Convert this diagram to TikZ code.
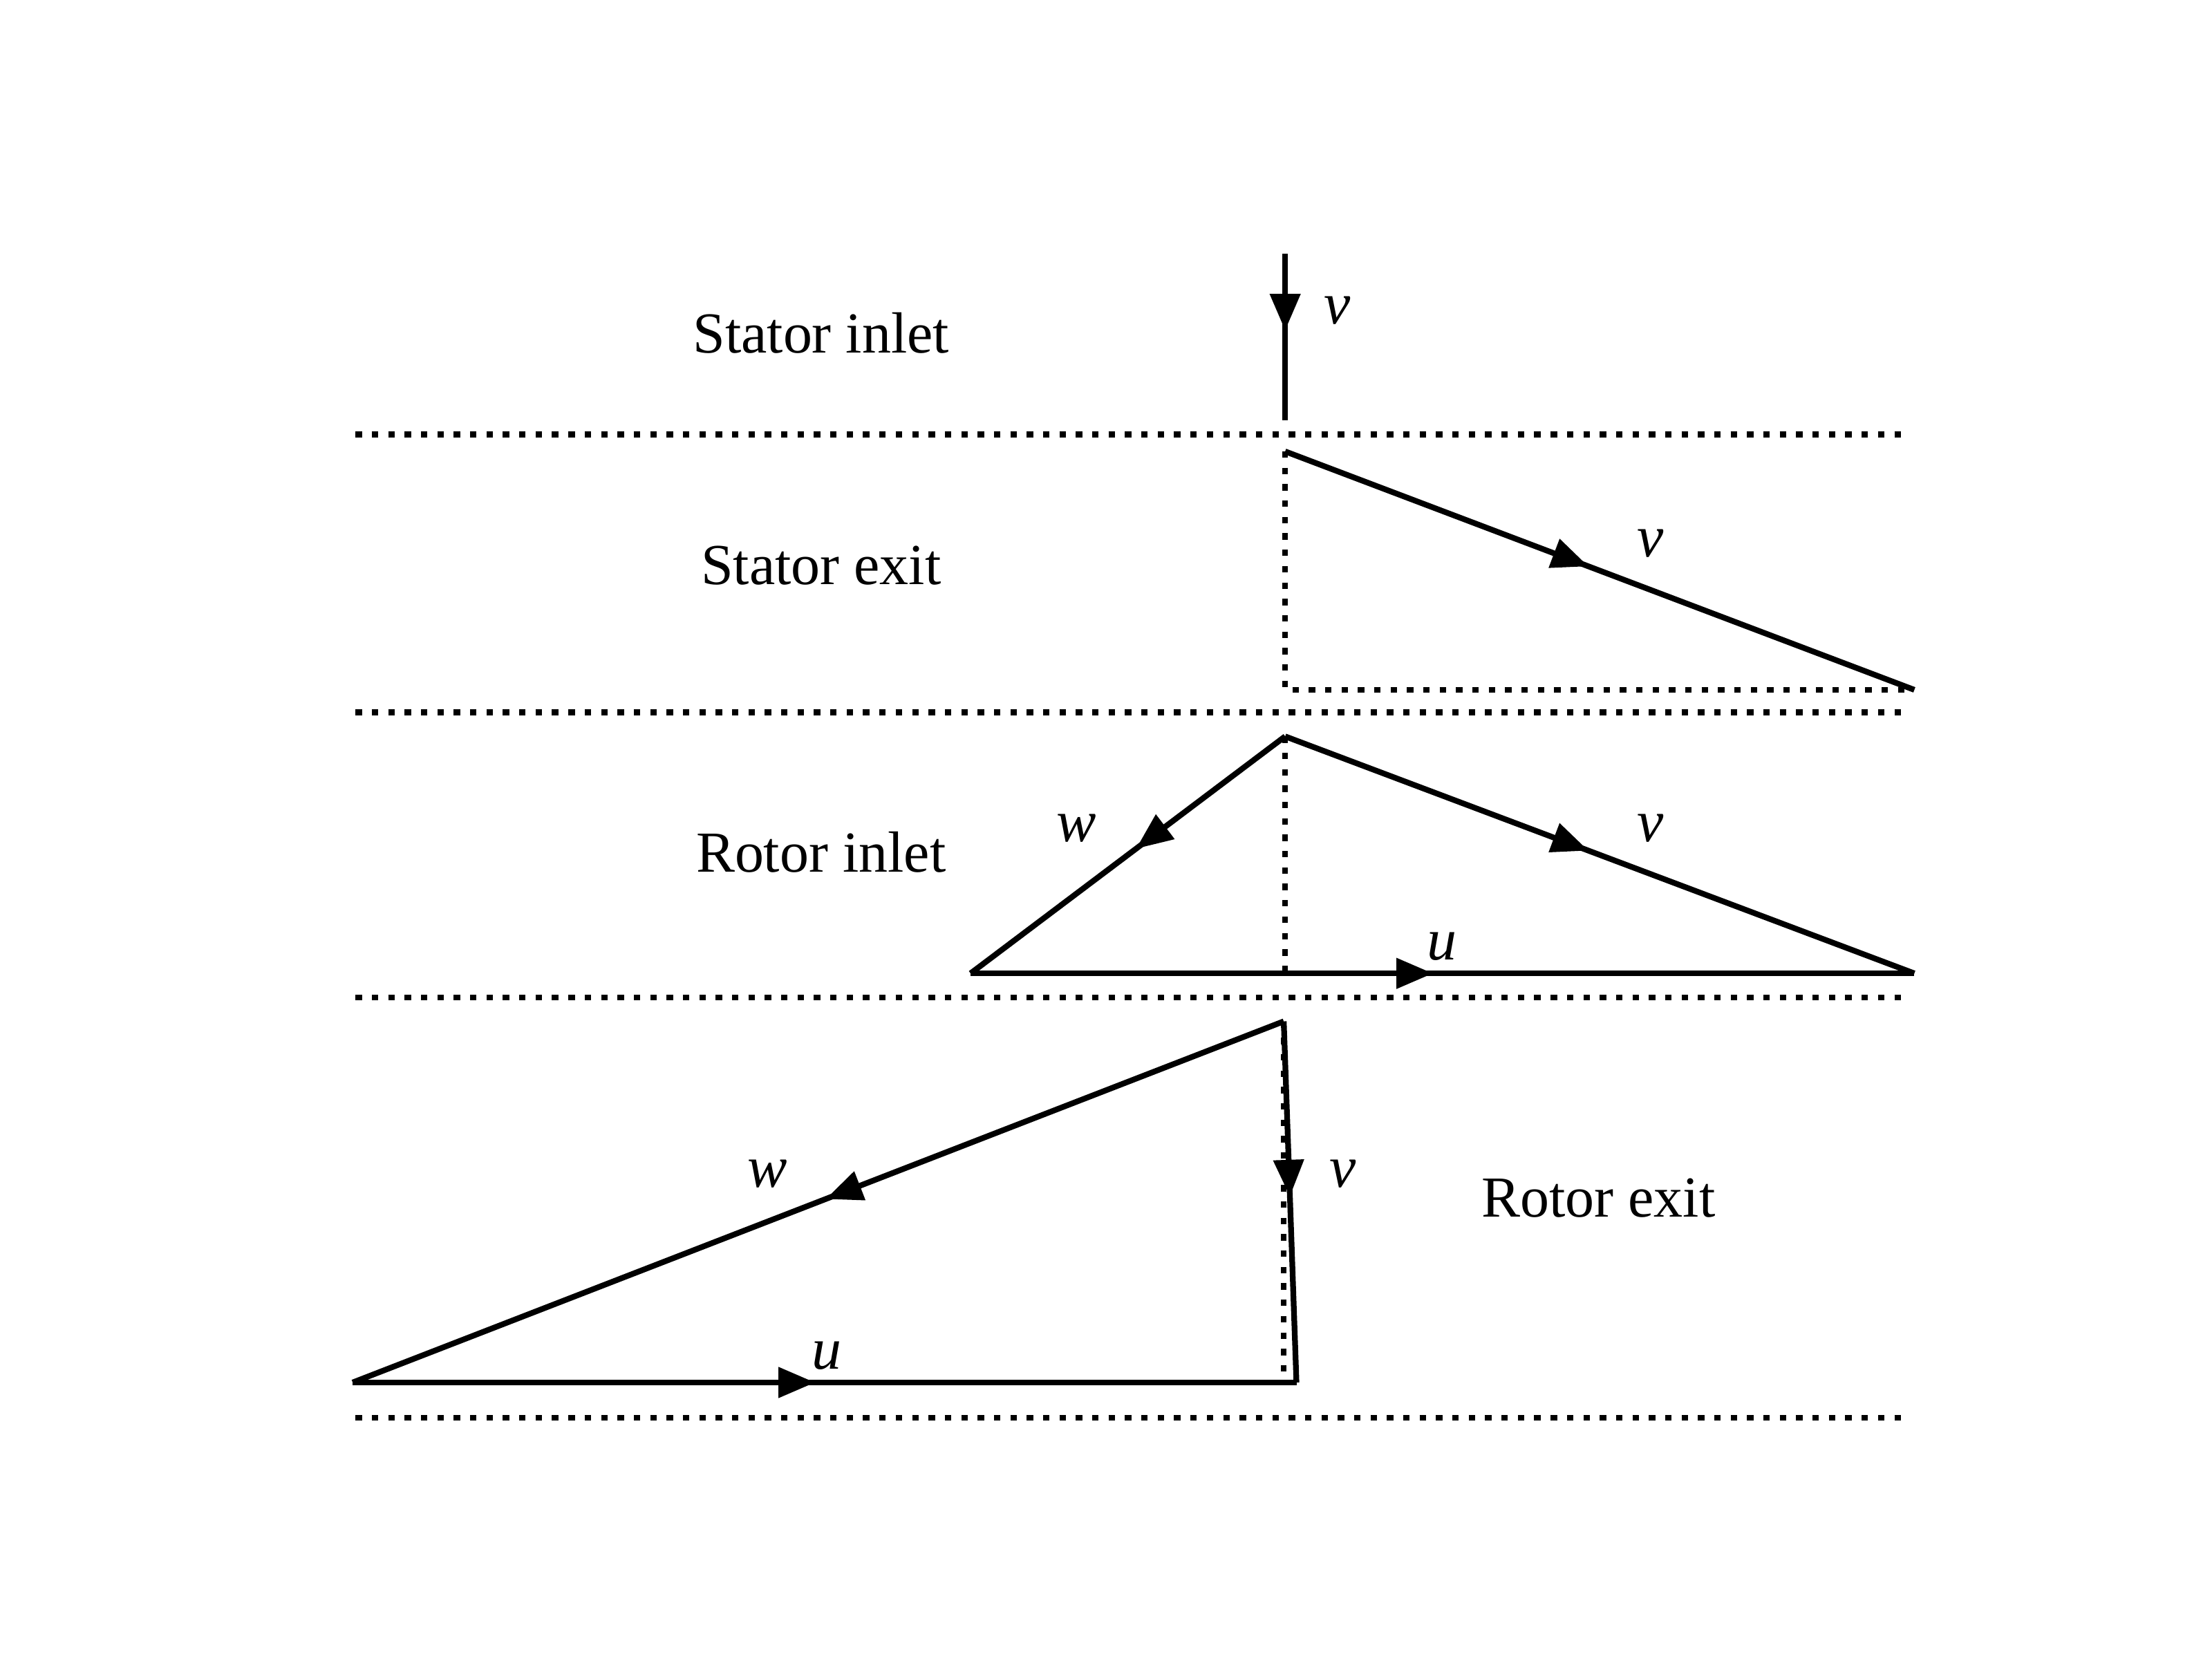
\documentclass[tikz,border=0pt]{standalone}
\usepackage{fontspec}
\setmainfont{Liberation Serif}
\usetikzlibrary{arrows.meta,decorations.markings}
\tikzset{
  vec/.style={line width=1.15pt},
  dotline/.style={line width=1.15pt, dash pattern=on 1.3pt off 2.0pt},
  midarrow/.style={postaction={decorate,decoration={markings,
    mark=at position #1 with {\arrow{Triangle[length=0.26cm,width=0.21cm]}}}}},
  lbl/.style={inner sep=0pt, font=\fontsize{11.7pt}{14pt}\selectfont},
  sym/.style={inner sep=0pt, font=\fontsize{12pt}{14pt}\selectfont\itshape}
}
\begin{document}
\begin{tikzpicture}[x=0.01cm,y=-0.01cm]
\useasboundingbox (0,0) rectangle (1568,1176);
% separator lines
\coordinate (l1a) at (252,308); \coordinate (l1b) at (1350,308);
\coordinate (l2a) at (252,505); \coordinate (l2b) at (1350,505);
\coordinate (l3a) at (252,707); \coordinate (l3b) at (1350,707);
\coordinate (l4a) at (252,1005); \coordinate (l4b) at (1350,1005);
\draw[dotline] (l1a) -- (l1b);
\draw[dotline] (l2a) -- (l2b);
\draw[dotline] (l3a) -- (l3b);
\draw[dotline] (l4a) -- (l4b);
% section titles
\node[lbl] (t1) at (582,236) {Stator inlet};
\node[lbl] (t2) at (582,401) {Stator exit};
\node[lbl] (t3) at (582,604) {Rotor inlet};
\node[lbl] (t4) at (1133,849) {Rotor exit};
% stator inlet
\coordinate (a1) at (911,180); \coordinate (b1) at (911,298);
\draw[vec,midarrow=0.46] (a1) -- (b1);
\node[sym] (v1) at (948,220) {v};
% stator exit
\coordinate (a2) at (911,320); \coordinate (b2) at (1357,489); \coordinate (c2) at (911,489);
\draw[dotline] (a2) -- (c2) -- (b2);
\draw[vec,midarrow=0.482] (a2) -- (b2);
\node[sym] (v2) at (1170,385) {v};
% rotor inlet
\coordinate (a3) at (911,522); \coordinate (b3) at (1357,690); \coordinate (c3) at (688,690);
\coordinate (d3) at (911,690);
\draw[dotline] (a3) -- (d3);
\draw[vec,midarrow=0.482] (a3) -- (b3);
\draw[vec,midarrow=0.475] (a3) -- (c3);
\draw[vec,midarrow=0.49] (c3) -- (b3);
\node[sym] (w3) at (763,587) {w};
\node[sym] (v3) at (1170,587) {v};
\node[sym] (u3) at (1022,671) {u};
% rotor exit
\coordinate (a4) at (910,724); \coordinate (b4) at (919,980); \coordinate (c4) at (250,980);
\coordinate (d4) at (910,980);
\draw[dotline] (a4) -- (d4);
\draw[vec,midarrow=0.492] (a4) -- (c4);
\draw[vec,midarrow=0.485] (a4) -- (b4);
\draw[vec,midarrow=0.49] (c4) -- (b4);
\node[sym] (w4) at (544,832) {w};
\node[sym] (v4) at (952,832) {v};
\node[sym] (u4) at (586,961) {u};
\end{tikzpicture}
\end{document}
